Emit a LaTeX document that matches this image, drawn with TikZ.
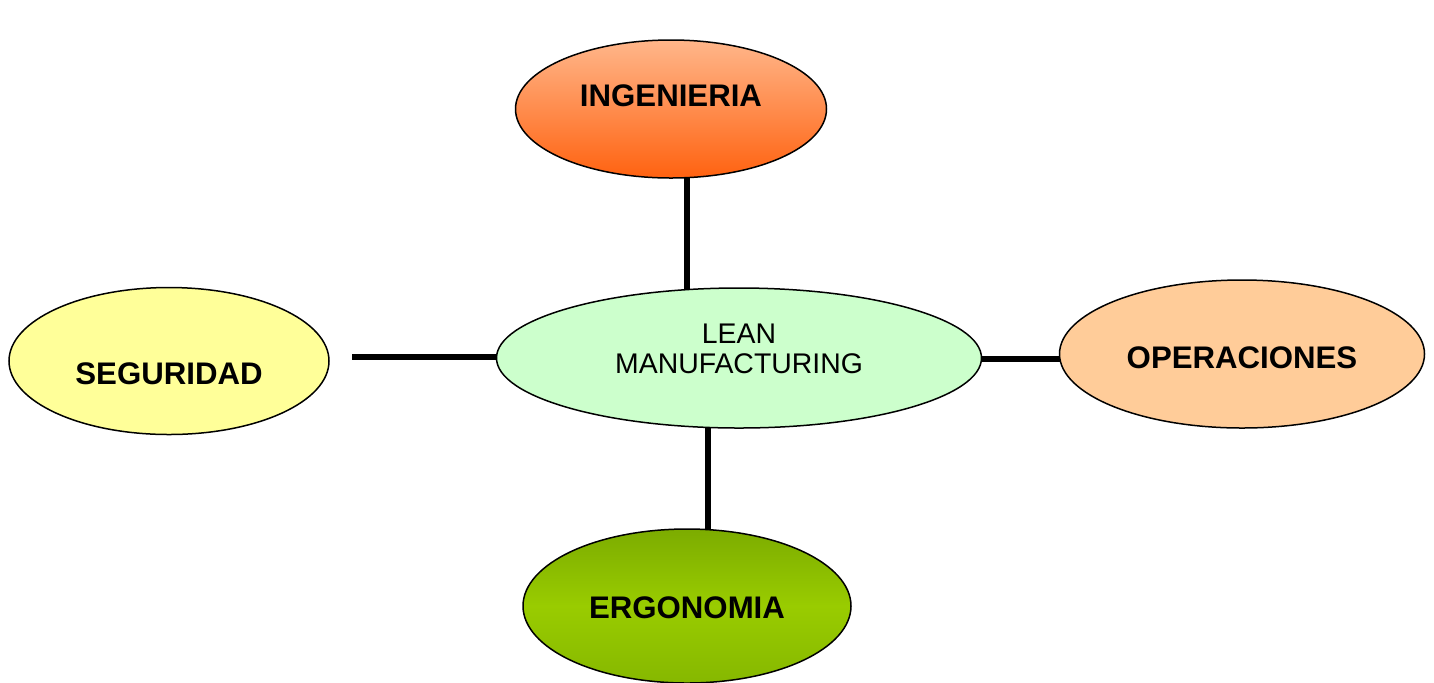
\documentclass[tikz,border=0pt]{standalone}
\usepackage{fontspec}
\setmainfont{Liberation Sans}
\usetikzlibrary{shapes.geometric,backgrounds}
\definecolor{IngTopClr}{RGB}{255,182,138}
\definecolor{IngBotClr}{RGB}{255,98,16}
\definecolor{ErgTopClr}{RGB}{124,172,0}
\definecolor{ErgMidClr}{RGB}{153,204,0}
\definecolor{ErgBotClr}{RGB}{134,184,0}
\definecolor{SegClr}{RGB}{255,255,153}
\definecolor{OpeClr}{RGB}{255,204,153}
\definecolor{LeanClr}{RGB}{204,255,204}

\begin{document}
\begin{tikzpicture}[x=0.5pt,y=-0.5pt,
  blob/.style={ellipse,draw=black,line width=0.75pt,inner sep=0pt,align=center},
  tag/.style={font=\fontsize{15.6}{18}\selectfont\bfseries},
  link/.style={line width=2.6pt,black}]
\useasboundingbox (0,0) rectangle (1434,682);

\node[blob,fill=LeanClr,minimum width=242.5pt,minimum height=70pt] (lean) at (739,358) {};
\node[font=\fontsize{14.2}{15}\selectfont,align=center] (leantxt) at (739,349) {LEAN\\MANUFACTURING};

\node[blob,top color=IngTopClr,bottom color=IngBotClr,
  minimum width=155.5pt,minimum height=69pt] (ing) at (671,109) {};
\node[tag] (ingtxt) at (671,96) {INGENIERIA};

\node[blob,fill=SegClr,minimum width=160pt,minimum height=73.5pt] (seg) at (169,361) {};
\node[tag] (segtxt) at (169,374) {SEGURIDAD};

\node[blob,fill=OpeClr,minimum width=182.5pt,minimum height=74pt] (ope) at (1242,354) {};
\node[tag] (opetxt) at (1242,358) {OPERACIONES};

\node[blob,top color=ErgTopClr,bottom color=ErgBotClr,middle color=ErgMidClr,
  minimum width=164pt,minimum height=77pt] (ergo) at (687,606) {};
\node[tag] (ergotxt) at (687,608) {ERGONOMIA};

\coordinate (segend) at (352,357);

\begin{scope}[on background layer]
\draw[link] ([xshift=8pt]ing.center) -- ([xshift=8pt]ing.center |- lean.center);
\draw[link] ([xshift=-15.5pt]lean.center) -- ([xshift=-15.5pt]lean.center |- ergo.center);
\draw[link] (segend) -- (segend -| lean.center);
\draw[link] ([yshift=-0.5pt]lean.center) -- ([yshift=-0.5pt]lean.center -| ope.center);
\end{scope}

\end{tikzpicture}
\end{document}
